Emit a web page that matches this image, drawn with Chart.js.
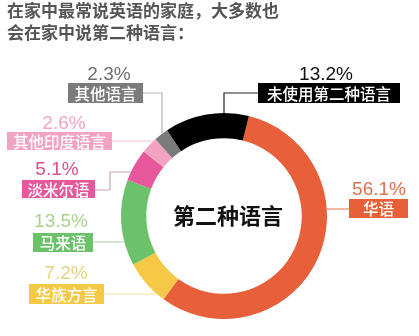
<!DOCTYPE html>
<html>
<head>
<meta charset="utf-8">
<script src="https://cdn.jsdelivr.net/npm/chart.js@4"></script>
<style>
  body { margin: 0; background: #fff; }
  canvas { display: block; }
</style>
</head>
<body>
<canvas id="langChart" width="419" height="336"></canvas>
<script>
// Data
const languages = ['华语', '华族方言', '马来语', '淡米尔语', '其他印度语言', '其他语言', '未使用第二种语言'];
const shares = [56.1, 7.2, 13.5, 5.1, 2.6, 2.3, 13.2];
const sliceColors = ['#e8603a', '#f5c945', '#6cc26a', '#e6589b', '#f3a3c1', '#7b7b7b', '#000000'];
const pctColors = ['#d9714c', '#e9d27c', '#a9d08c', '#d8508f', '#f2a4c0', '#6f6f6f', '#111111'];
const lineColors = ['#e8875f', '#f0dd95', '#b9d8b4', '#c9a3b5', '#e8c2cf', '#b5b5b5', '#222222'];
const titleLines = ['在家中最常说英语的家庭，大多数也', '会在家中说第二种语言：'];
const centerLabel = '第二种语言';

// Label boxes: [left, top, width, height], percent text centre, leader path
// leader: list of points from box edge; last point snaps to the ring ('h' = horizontal, 'v' = vertical)
const labelLayout = [
    { box: [349, 199, 59, 19], pct: [379, 190], path: [[349, 209]], snap: 'h' },
    { box: [29, 284, 75, 20], pct: [66, 274], path: [[104, 294]], snap: 'h' },
    { box: [33, 233, 60, 19], pct: [61, 222], path: [[93, 242]], snap: 'h' },
    { box: [22, 180, 73, 18], pct: [57, 170], path: [[95, 190], [110, 190], [110, 172]], snap: 'h' },
    { box: [7, 132, 105, 18], pct: [64, 124], path: [[112, 141]], snap: 'h' },
    { box: [68, 83, 75, 20], pct: [109, 75], path: [[143, 93], [162, 93]], snap: 'v' },
    { box: [258, 83, 142, 20], pct: [326, 75], path: [[258, 93], [224, 93]], snap: 'v' }
];

const pctFont = '19px "Liberation Sans", Arial, sans-serif';
const cjkFont = '"Noto Sans CJK SC", sans-serif';

// Draw title, callouts and centre text
const calloutPlugin = {
    id: 'callouts',
    afterDraw(chart) {
        const ctx = chart.ctx;
        const arc = chart.getDatasetMeta(0).data[0];
        const cx = arc.x, cy = arc.y, r = arc.outerRadius;

        ctx.save();

        // title
        ctx.fillStyle = '#555';
        ctx.font = 'bold 17px ' + cjkFont;
        ctx.textBaseline = 'middle';
        ctx.textAlign = 'left';
        titleLines.forEach((t, i) => ctx.fillText(t, 7, 11 + i * 22));

        // leader lines
        labelLayout.forEach((lab, i) => {
            const pts = lab.path.slice();
            const last = pts[pts.length - 1];
            let end;
            if (lab.snap === 'h') {
                const dy = last[1] - cy;
                const dx = Math.sqrt(Math.max(r * r - dy * dy, 0));
                end = [last[0] < cx ? cx - dx : cx + dx, last[1]];
            } else {
                const dx = last[0] - cx;
                const dy = Math.sqrt(Math.max(r * r - dx * dx, 0));
                end = [last[0], cy - dy];
            }
            pts.push(end);
            ctx.strokeStyle = lineColors[i];
            ctx.lineWidth = 1.2;
            ctx.beginPath();
            ctx.moveTo(pts[0][0], pts[0][1]);
            pts.slice(1).forEach(p => ctx.lineTo(p[0], p[1]));
            ctx.stroke();
        });

        // boxes and percentages
        labelLayout.forEach((lab, i) => {
            const [bx, by, bw, bh] = lab.box;
            ctx.fillStyle = sliceColors[i];
            ctx.fillRect(bx, by, bw, bh);
            ctx.fillStyle = '#fff';
            ctx.font = '500 15.5px ' + cjkFont;
            ctx.textAlign = 'center';
            ctx.textBaseline = 'middle';
            ctx.fillText(languages[i], bx + bw / 2, by + bh / 2 + 1);

            ctx.fillStyle = pctColors[i];
            ctx.font = pctFont;
            ctx.fillText(shares[i].toFixed(1) + '%', lab.pct[0], lab.pct[1]);
        });

        // centre text
        ctx.fillStyle = '#111';
        ctx.font = 'bold 22px ' + cjkFont;
        ctx.textAlign = 'center';
        ctx.textBaseline = 'middle';
        ctx.fillText(centerLabel, cx + 4, cy);

        ctx.restore();
    }
};

const ctx = document.getElementById('langChart').getContext('2d');

new Chart(ctx, {
    type: 'doughnut',
    data: {
        labels: languages,
        datasets: [{
            data: shares,
            backgroundColor: sliceColors,
            borderWidth: 0
        }]
    },
    options: {
        responsive: false,
        animation: false,
        cutout: '75.5%',
        rotation: 14,
        layout: {
            padding: { left: 121, right: 92, top: 113, bottom: 17 }
        },
        plugins: {
            legend: { display: false },
            tooltip: { enabled: false }
        }
    },
    plugins: [calloutPlugin]
});
</script>
</body>
</html>
